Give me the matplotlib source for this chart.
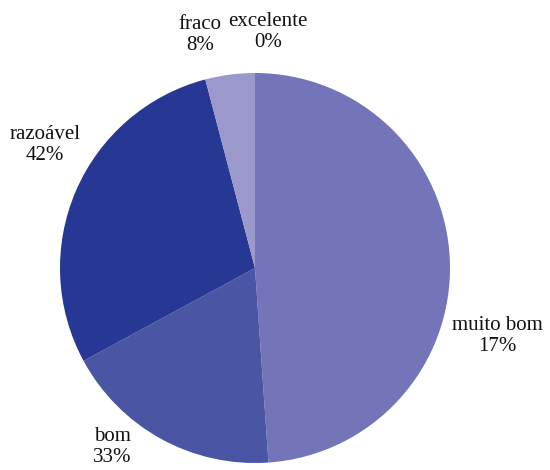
import matplotlib.pyplot as plt

plt.rcParams['font.family'] = ['Liberation Serif', 'DejaVu Serif']

categories = ['muito bom', 'bom', 'razoável', 'fraco', 'excelente']
shares = [48.9, 18.2, 28.8, 4.1, 0.0]
pct_labels = ['17%', '33%', '42%', '8%', '0%']
colors = ['#7375b8', '#4a55a4', '#273894', '#9b98cc', '#c4c4e2']

# label anchor points in pixel units (x, y from the top)
label_xy = [(497, 336), (112, 447), (45, 145), (200, 35), (268, 32)]

fig = plt.figure(figsize=(5.5, 4.7), dpi=100)
ax = fig.add_axes([0, 0, 1, 1])
ax.set_xlim(0, 550)
ax.set_ylim(0, 470)
ax.set_aspect('equal')
ax.axis('off')

ax.pie(shares, colors=colors, startangle=90, counterclock=False,
       center=(255, 470 - 268), radius=195,
       wedgeprops=dict(linewidth=0))

for name, pct, (x, y) in zip(categories, pct_labels, label_xy):
    ax.text(x, 470 - y, name + '\n' + pct, ha='center', va='center',
            fontsize=15, color='#111111', linespacing=1.15)

ax.set_xlim(0, 550)
ax.set_ylim(0, 470)
fig.savefig('out.png', dpi=100)
